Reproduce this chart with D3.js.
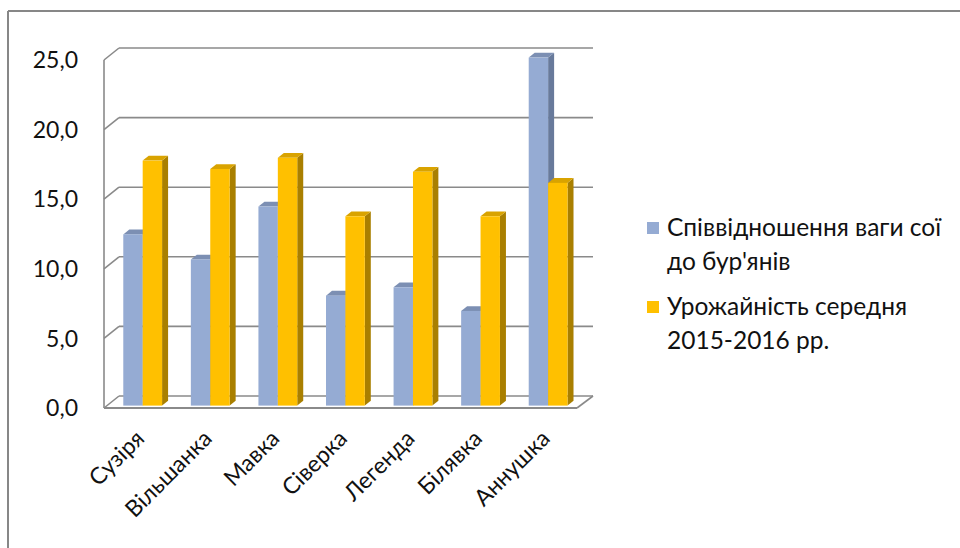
<!DOCTYPE html>
<html><head><meta charset="utf-8">
<script src="https://cdn.jsdelivr.net/npm/d3@7"></script>
<style>body{margin:0;background:#fff;} svg{display:block;font-family:Lato,"Liberation Sans",sans-serif;}</style>
</head><body>
<svg id="c" width="960" height="548"></svg>
<script>
const categories = ["Сузіря","Вільшанка","Мавка","Сіверка","Легенда","Білявка","Аннушка"];
const seriesNames = [["Співвідношення ваги сої","до бур'янів"],["Урожайність середня","2015-2016 рр."]];
const ratioValues = [12.3, 10.5, 14.3, 7.9, 8.5, 6.8, 25.0];
const yieldValues = [17.6, 17.0, 17.8, 13.6, 16.8, 13.6, 16.0];
const yTicks = [0,5,10,15,20,25];
const yTickLabels = ["0,0","5,0","10,0","15,0","20,0","25,0"];

const colors = [
  {front:"#95abd3", side:"#687a9b", top:"#7c8fb3"},
  {front:"#ffc000", side:"#a97f00", top:"#d9a300"}
];
const svg = d3.select("#c");
// outer frame
svg.append("line").attr("x1",8).attr("x2",8).attr("y1",11).attr("y2",548).attr("stroke","#878787").attr("stroke-width",2);
svg.append("line").attr("x1",8).attr("x2",960).attr("y1",11).attr("y2",11).attr("stroke","#878787").attr("stroke-width",2);

const x0 = 104, x1 = 577;
const depthX = 15, depthY = -12;
const y = d3.scaleLinear().domain([0,25]).range([408,60]);
const x = d3.scaleBand().domain(categories).range([x0,x1]).paddingInner(0).paddingOuter(0);

const grid = svg.append("g").attr("stroke","#8a8a8a").attr("stroke-width",1.6).attr("fill","none");
yTicks.forEach(t=>{
  const yf = y(t);
  grid.append("line").attr("x1",x0).attr("y1",yf).attr("x2",x0+depthX).attr("y2",yf+depthY);
  grid.append("line").attr("x1",x0+depthX).attr("y1",yf+depthY).attr("x2",x1+depthX+1).attr("y2",yf+depthY);
});
grid.append("line").attr("x1",x0).attr("y1",y(0)).attr("x2",x0).attr("y2",y(25));
grid.append("line").attr("x1",x0).attr("y1",y(0)).attr("x2",x1).attr("y2",y(0)).attr("stroke-width",2);
grid.append("line").attr("x1",x1).attr("y1",y(0)).attr("x2",x1+depthX+1).attr("y2",y(0)+depthY);

// y labels
svg.append("g").selectAll("text").data(yTicks).join("text")
  .attr("x",78).attr("y",d=>y(d)).attr("dy","0.36em").attr("text-anchor","end")
  .attr("font-size",23).attr("fill","#111").text((d,i)=>yTickLabels[i]);

// bars
const bw = 19.4;
const fShiftX = 3, fShiftY = -2.4; // bar front depth offset
const bdx = 6, bdy = -4.8; // bar depth
const series = [ratioValues, yieldValues];
const bars = svg.append("g");
categories.forEach((c,i)=>{
  const gx = x(c) + (x.bandwidth()-2*bw)/2 + 4.9;
  series.forEach((vals,s)=>{
    const v = vals[i];
    const bx = gx + s*bw;
    const by0 = y(0) + fShiftY;
    const by1 = y(v) + fShiftY;
    const col = colors[s];
    const g = bars.append("g");
    g.append("path").attr("d",`M${bx+bw},${by0}L${bx+bw+bdx},${by0+bdy}L${bx+bw+bdx},${by1+bdy}L${bx+bw},${by1}Z`).attr("fill",col.side);
    g.append("path").attr("d",`M${bx},${by1}L${bx+bdx},${by1+bdy}L${bx+bw+bdx},${by1+bdy}L${bx+bw},${by1}Z`).attr("fill",col.top);
    g.append("rect").attr("x",bx).attr("y",by1).attr("width",bw).attr("height",by0-by1).attr("fill",col.front);
  });
});

// x labels
svg.append("g").selectAll("text").data(categories).join("text")
  .attr("transform",d=>`translate(${x(d)+x.bandwidth()/2+8},${440}) rotate(-45)`)
  .attr("text-anchor","end").attr("font-size",23).attr("fill","#111").text(d=>d);

// legend
const leg = svg.append("g");
const legY = [236, 315];
seriesNames.forEach((lines,s)=>{
  leg.append("rect").attr("x",647).attr("y",legY[s]-14).attr("width",12).attr("height",12).attr("fill",colors[s].front);
  lines.forEach((t,k)=>{
    leg.append("text").attr("x",667).attr("y",legY[s]+k*34).attr("font-size",24.5).attr("fill","#111").text(t);
  });
});
</script>
</body></html>
